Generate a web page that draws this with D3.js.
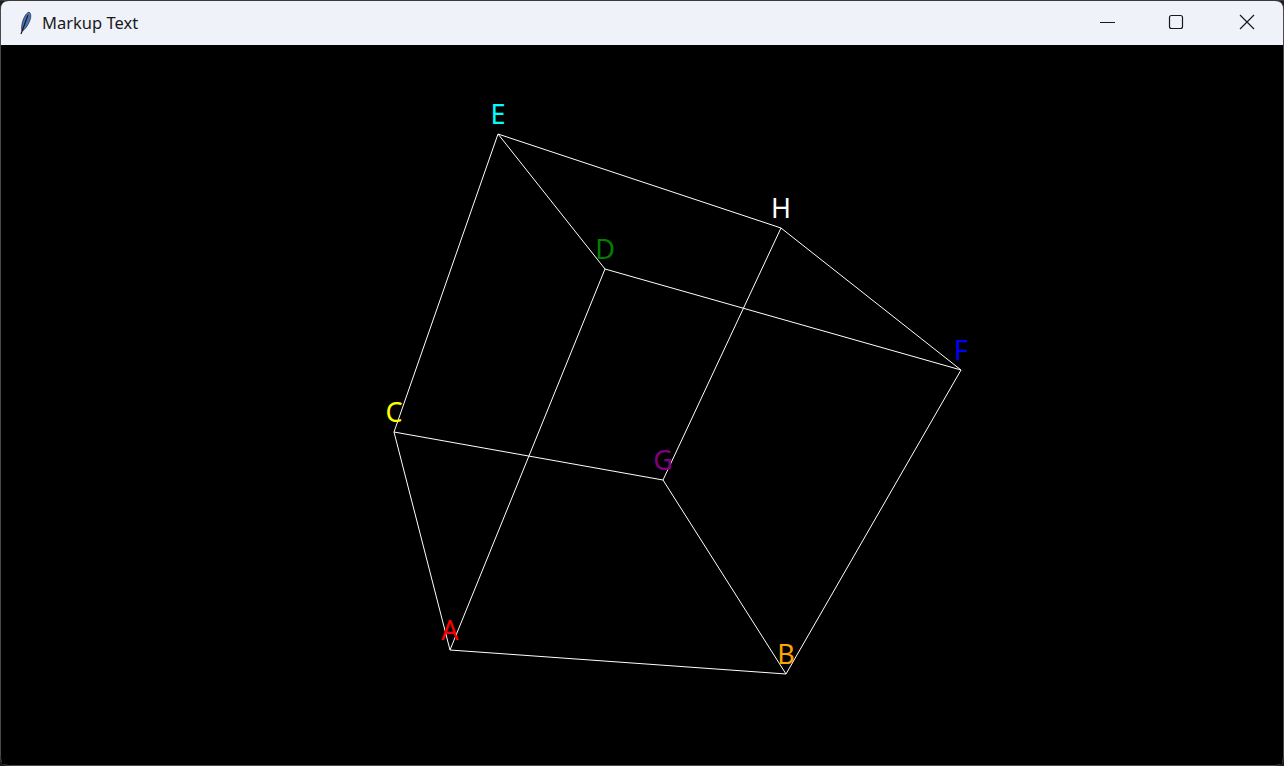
<!DOCTYPE html>
<html>
<head>
<meta charset="utf-8">
<script src="https://cdn.jsdelivr.net/npm/d3@7"></script>
<style>
  html, body { margin: 0; padding: 0; background: #1c1c1c; overflow: hidden; }
  svg { display: block; }
</style>
</head>
<body>
<svg id="chart" width="1284" height="766"></svg>
<script>
// ---- data (canvas coordinates of the projected cube) ----
const vertexNames  = ["A", "B", "C", "D", "E", "F", "G", "H"];
const vertexX      = [448, 784, 392, 603, 496, 959, 661, 779];
const vertexY      = [605, 629, 387, 224,  89, 325, 435, 183];
const vertexColors = ["red", "orange", "yellow", "green", "cyan", "blue", "purple", "white"];
const edgeFrom     = ["A", "A", "A", "B", "B", "C", "C", "D", "D", "E", "F", "G"];
const edgeTo       = ["B", "C", "D", "F", "G", "E", "G", "E", "F", "H", "H", "H"];
const windowTitle  = "Markup Text";

const W = 1284, H = 766;
const canvasLeft = 2, canvasTop = 45, canvasW = 1280, canvasH = 719;

const svg = d3.select("#chart");

// ---- window chrome ----
svg.append("rect").attr("x", 0.5).attr("y", 0.5).attr("width", W - 1).attr("height", H - 1)
  .attr("rx", 8).attr("fill", "#000").attr("stroke", "#4a4a4a");
svg.append("path")
  .attr("d", `M1,${canvasTop} L1,9 Q1,1 9,1 L${W-9},1 Q${W-1},1 ${W-1},9 L${W-1},${canvasTop} Z`)
  .attr("fill", "#eff2f9");
svg.append("line").attr("x1", 0).attr("x2", W).attr("y1", 0.5).attr("y2", 0.5)
  .attr("stroke", "#3a3a3a");

// feather icon
const icon = svg.append("g").attr("transform", "translate(19,12)");
icon.append("path")
  .attr("d", "M10,0 C13,2 12,8 8,14 C6,17 4,19 3,19 C2,16 3,9 6,4 C7,2 8,1 10,0 Z")
  .attr("fill", "#4a76b8").attr("stroke", "#1f2f4a").attr("stroke-width", 0.8);
icon.append("path").attr("d", "M9,3 L2,22").attr("stroke", "#1a1a1a").attr("stroke-width", 1.2);

svg.append("text").attr("x", 42).attr("y", 28.5)
  .attr("font-family", "'Segoe UI', 'Noto Sans', sans-serif").attr("font-size", 16.5)
  .attr("fill", "#1a1a1a").text(windowTitle);

// window buttons
svg.append("line").attr("x1", 1100).attr("x2", 1115).attr("y1", 22.5).attr("y2", 22.5)
  .attr("stroke", "#1a1a1a").attr("stroke-width", 1);
svg.append("rect").attr("x", 1169.5).attr("y", 15.5).attr("width", 13).attr("height", 13).attr("rx", 2)
  .attr("fill", "none").attr("stroke", "#1a1a1a").attr("stroke-width", 1.2);
svg.append("path").attr("d", "M1240,15 L1254,29 M1254,15 L1240,29")
  .attr("stroke", "#1a1a1a").attr("stroke-width", 1.2);

// ---- canvas ----
const g = svg.append("g");
g.append("rect").attr("x", canvasLeft).attr("y", canvasTop)
  .attr("width", canvasW).attr("height", canvasH).attr("fill", "#000");

const x = d3.scaleLinear().domain([0, canvasW]).range([canvasLeft, canvasLeft + canvasW]);
const y = d3.scaleLinear().domain([0, canvasH]).range([canvasTop, canvasTop + canvasH]);

const vertices = vertexNames.map((n, i) => ({ name: n, x: vertexX[i], y: vertexY[i], color: vertexColors[i] }));
const byName = Object.fromEntries(vertices.map(v => [v.name, v]));
const edges = edgeFrom.map((f, i) => ({ a: byName[f], b: byName[edgeTo[i]] }));

g.selectAll("line.edge").data(edges).join("line")
  .attr("class", "edge")
  .attr("x1", d => x(d.a.x)).attr("y1", d => y(d.a.y))
  .attr("x2", d => x(d.b.x)).attr("y2", d => y(d.b.y))
  .attr("stroke", "#fff").attr("stroke-width", 1);

g.selectAll("text.label").data(vertices).join("text")
  .attr("class", "label")
  .attr("x", d => x(d.x)).attr("y", d => y(d.y) - 10)
  .attr("text-anchor", "middle")
  .attr("font-family", "'Segoe UI', 'Noto Sans', sans-serif")
  .attr("font-size", 27)
  .attr("fill", d => d.color)
  .text(d => d.name);
</script>
</body>
</html>
